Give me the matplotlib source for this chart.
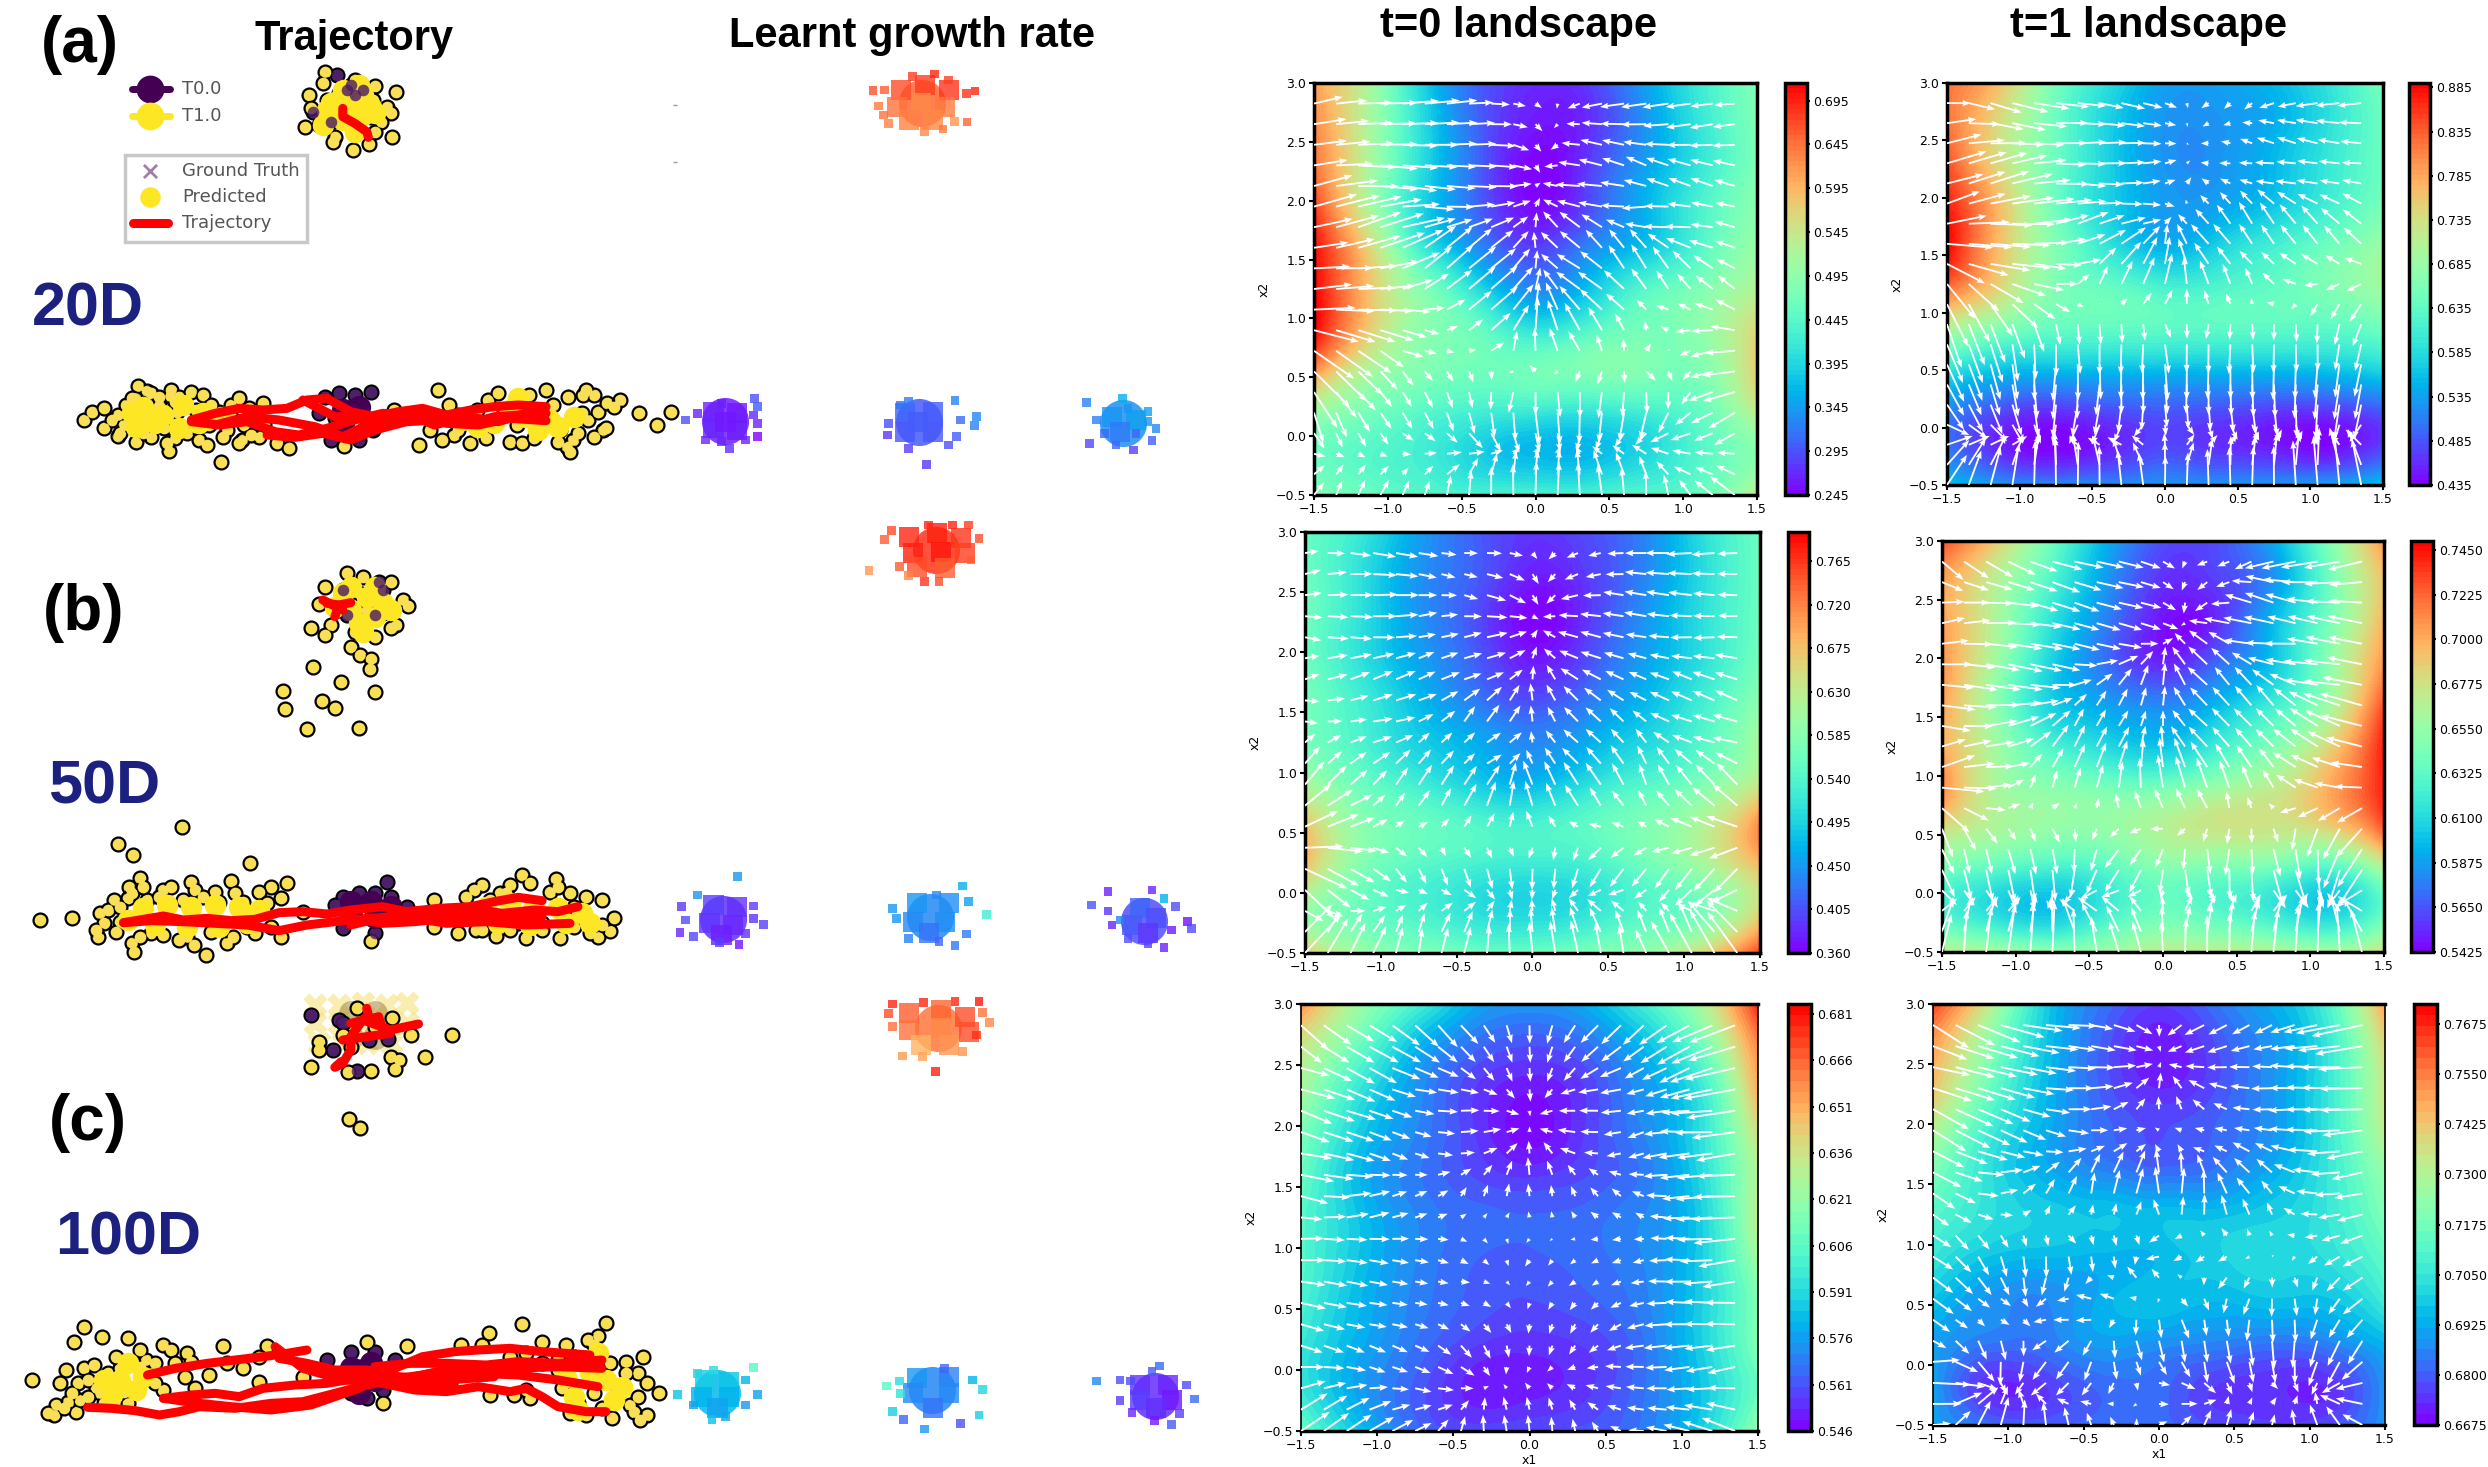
import matplotlib
matplotlib.use("Agg")
import matplotlib.pyplot as plt
import matplotlib.tri as mtri
import numpy as np
from matplotlib.patches import Rectangle

# --- landscape panels: colour, in % of each colour bar,
# rows from x2=3.0 down to x2=-0.5, columns x1=-1.5 .. 1.5
grid_x = [-1.5, -1.125, -0.75, -0.375, 0.0, 0.375, 0.75, 1.125, 1.5]
grid_y = [3.0, 2.65, 2.3, 1.95, 1.6, 1.25, 0.9, 0.55, 0.2, -0.15, -0.5]

land_a0 = [[78, 58, 30, 12, 5, 8, 22, 38, 50],
           [82, 58, 32, 12, 3, 6, 20, 36, 50],
           [85, 58, 32, 12, 0, 8, 22, 36, 50],
           [92, 58, 30, 12, 1, 10, 25, 40, 52],
           [98, 68, 36, 18, 8, 18, 28, 42, 55],
           [100, 72, 50, 32, 18, 28, 42, 50, 60],
           [100, 70, 52, 45, 35, 42, 48, 53, 68],
           [80, 58, 50, 47, 48, 50, 50, 50, 70],
           [55, 48, 42, 38, 36, 35, 38, 45, 62],
           [46, 42, 38, 30, 26, 26, 32, 42, 52],
           [50, 46, 42, 40, 40, 40, 42, 46, 62]]
land_a1 = [[85, 72, 48, 33, 22, 22, 26, 35, 48],
           [85, 66, 46, 30, 20, 20, 24, 34, 46],
           [90, 66, 46, 30, 20, 20, 26, 36, 46],
           [96, 72, 46, 30, 21, 22, 28, 38, 48],
           [100, 72, 50, 34, 24, 30, 38, 46, 55],
           [88, 68, 50, 44, 38, 40, 44, 50, 57],
           [62, 52, 46, 45, 44, 44, 44, 44, 48],
           [38, 30, 29, 29, 29, 29, 29, 30, 34],
           [20, 12, 9, 12, 13, 12, 10, 10, 14],
           [15, 4, 0, 4, 9, 6, 3, 1, 8],
           [28, 20, 18, 18, 20, 20, 20, 22, 28]]
land_b0 = [[45, 36, 22, 12, 7, 10, 18, 34, 46],
           [46, 34, 20, 12, 4, 8, 18, 33, 46],
           [47, 34, 20, 10, 0, 7, 20, 34, 46],
           [46, 34, 22, 12, 3, 10, 22, 34, 48],
           [48, 38, 26, 16, 10, 16, 26, 38, 52],
           [48, 40, 30, 24, 18, 24, 32, 42, 58],
           [58, 46, 38, 30, 26, 34, 42, 50, 64],
           [72, 52, 46, 42, 40, 44, 50, 60, 82],
           [72, 50, 42, 38, 36, 38, 46, 56, 72],
           [55, 46, 40, 34, 32, 35, 42, 48, 68],
           [72, 56, 50, 46, 46, 50, 54, 68, 92]]
land_b1 = [[90, 70, 46, 24, 10, 10, 24, 50, 80],
           [78, 60, 40, 20, 6, 8, 20, 46, 72],
           [78, 58, 34, 16, 2, 6, 26, 48, 75],
           [80, 55, 30, 14, 5, 14, 28, 52, 80],
           [78, 52, 30, 22, 18, 26, 38, 56, 90],
           [76, 56, 40, 32, 28, 38, 50, 68, 96],
           [82, 58, 52, 48, 48, 55, 62, 76, 96],
           [66, 58, 54, 54, 60, 64, 64, 68, 88],
           [48, 42, 38, 42, 50, 48, 46, 40, 58],
           [40, 32, 28, 38, 46, 42, 36, 30, 45],
           [62, 58, 54, 56, 62, 62, 60, 58, 66]]
land_c0 = [[80, 56, 40, 24, 20, 24, 38, 58, 95],
           [64, 46, 26, 14, 10, 14, 26, 46, 82],
           [58, 36, 20, 8, 3, 8, 20, 36, 76],
           [50, 30, 18, 8, 1, 8, 18, 34, 66],
           [46, 26, 16, 10, 7, 10, 16, 32, 60],
           [42, 28, 18, 14, 13, 14, 18, 30, 62],
           [42, 28, 18, 13, 12, 14, 18, 30, 56],
           [40, 26, 17, 12, 10, 12, 17, 30, 50],
           [36, 24, 15, 8, 6, 8, 15, 30, 50],
           [36, 22, 12, 4, 4, 7, 15, 28, 46],
           [46, 28, 14, 9, 10, 11, 16, 30, 54]]
land_c1 = [[92, 62, 30, 15, 8, 15, 24, 40, 78],
           [78, 52, 28, 12, 3, 10, 20, 36, 68],
           [72, 46, 26, 12, 5, 10, 20, 36, 64],
           [60, 38, 24, 14, 10, 13, 20, 36, 62],
           [50, 34, 24, 18, 14, 16, 24, 36, 54],
           [42, 34, 30, 28, 27, 27, 30, 36, 50],
           [36, 28, 26, 25, 26, 30, 32, 34, 44],
           [28, 20, 18, 24, 28, 26, 28, 28, 38],
           [22, 16, 16, 22, 20, 18, 16, 18, 26],
           [22, 6, 8, 14, 14, 8, 6, 6, 20],
           [22, 14, 12, 14, 14, 10, 8, 10, 20]]

ticks_a0 = [0.245, 0.295, 0.345, 0.395, 0.445, 0.495, 0.545, 0.595, 0.645, 0.695]
ticks_a1 = [0.435, 0.485, 0.535, 0.585, 0.635, 0.685, 0.735, 0.785, 0.835, 0.885]
ticks_b0 = [0.360, 0.405, 0.450, 0.495, 0.540, 0.585, 0.630, 0.675, 0.720, 0.765]
ticks_b1 = [0.5425, 0.5650, 0.5875, 0.6100, 0.6325, 0.6550, 0.6775, 0.7000, 0.7225, 0.7450]
ticks_c0 = [0.546, 0.561, 0.576, 0.591, 0.606, 0.621, 0.636, 0.651, 0.666, 0.681]
ticks_c1 = [0.6675, 0.6800, 0.6925, 0.7050, 0.7175, 0.7300, 0.7425, 0.7550, 0.7675]
top_a0, top_a1, top_b0, top_b1, top_c0, top_c1 = 0.715, 0.890, 0.795, 0.7495, 0.6842, 0.7725

# --- trajectory clusters, positions in crop coordinates of each row
a_up_yellow_x = [408, 445, 470, 497, 388, 405, 440, 468, 485, 490, 478, 390, 410, 425, 450, 430, 408, 382, 400, 420, 418, 443, 463, 492, 470, 445, 465]
a_up_yellow_y = [215, 240, 258, 275, 285, 250, 265, 300, 320, 340, 365, 325, 300, 280, 300, 330, 350, 382, 375, 410, 425, 450, 433, 410, 395, 370, 350]
a_up_core_x = [430, 455, 410, 440, 465, 430, 455, 415, 450, 425, 470, 445, 405]
a_up_core_y = [270, 285, 330, 320, 320, 360, 345, 310, 255, 300, 340, 395, 375]
a_up_purple_x = [423, 435, 445, 455, 440, 392, 415]
a_up_purple_y = [225, 270, 285, 270, 255, 335, 365]
a_up_red_x = [[430, 430, 445, 460, 462]]
a_up_red_y = [[325, 350, 370, 395, 412]]

a_lo_yellow_x = [105, 130, 148, 173, 185, 148, 158, 169, 185, 179, 188, 200, 213, 222, 206, 219, 231, 246, 256, 250, 262, 275, 290, 306, 312, 331, 303, 325, 212, 277, 348, 494, 525, 550, 563, 575, 588, 569, 598, 612, 631, 648, 664, 694, 712, 731, 702, 719, 738, 750, 762, 756, 778, 802, 824, 842, 711, 363, 432,
                 115, 130, 140, 155, 165, 175, 190, 205, 215, 225, 240, 255, 270, 285, 300, 315, 330, 150, 170, 190, 210, 235, 260, 280, 300, 160, 180, 200, 220, 245, 265, 290,
                 540, 555, 575, 590, 610, 625, 640, 655, 670, 685, 700, 715, 730, 745, 760, 770, 745, 735, 725]
a_lo_yellow_y = [1260, 1284, 1308, 1158, 1173, 1245, 1215, 1194, 1260, 1296, 1230, 1215, 1188, 1236, 1284, 1314, 1200, 1230, 1275, 1320, 1275, 1236, 1215, 1275, 1224, 1275, 1320, 1311, 1353, 1386, 1328, 1230, 1335, 1170, 1215, 1245, 1260, 1305, 1230, 1200, 1245, 1275, 1185, 1215, 1190, 1185, 1290, 1320, 1260, 1235, 1210, 1290, 1200, 1240, 1275, 1235, 1341, 1345, 1337,
                 1235, 1225, 1260, 1275, 1195, 1225, 1180, 1245, 1170, 1190, 1175, 1185, 1250, 1290, 1195, 1305, 1210, 1300, 1325, 1310, 1330, 1300, 1335, 1310, 1330, 1275, 1300, 1190, 1205, 1280, 1215, 1250,
                 1290, 1320, 1290, 1330, 1315, 1180, 1325, 1330, 1315, 1170, 1325, 1355, 1240, 1310, 1285, 1220, 1185, 1170, 1300]
a_lo_core_x = [165, 180, 205, 230, 255, 280, 195, 225, 250, 170, 660, 690, 640, 620, 700, 675, 650, 720, 600, 580]
a_lo_core_y = [1240, 1220, 1245, 1215, 1240, 1250, 1270, 1285, 1270, 1280, 1250, 1260, 1230, 1270, 1280, 1290, 1195, 1250, 1280, 1260]
a_lo_purple_x = [408, 425, 445, 465, 400, 420, 440, 460, 415, 433, 450, 468]
a_lo_purple_y = [1190, 1180, 1185, 1175, 1240, 1255, 1230, 1270, 1320, 1310, 1320, 1290]
a_lo_dark_x = [430, 450, 430]
a_lo_dark_y = [1230, 1220, 1270]
a_lo_red_x = [[240, 270, 300, 330, 360, 385, 410, 440, 470, 500, 530, 560, 590, 620, 650, 685],
              [240, 275, 310, 345, 375, 410, 445, 480, 520, 560, 600, 640, 685],
              [335, 370, 405, 440, 470, 510, 550, 590, 620, 650, 685],
              [270, 310, 350, 395, 430, 465, 510, 545, 585, 625, 680],
              [380, 420, 460, 500]]
a_lo_red_y = [[1260, 1240, 1225, 1230, 1225, 1200, 1195, 1235, 1250, 1235, 1225, 1245, 1230, 1220, 1215, 1220],
              [1265, 1275, 1265, 1295, 1305, 1285, 1260, 1240, 1245, 1270, 1275, 1255, 1262],
              [1305, 1312, 1300, 1320, 1290, 1265, 1260, 1270, 1250, 1245, 1240],
              [1275, 1250, 1260, 1280, 1310, 1270, 1240, 1275, 1250, 1265, 1225],
              [1200, 1250, 1250, 1255]]

b_up_yellow_x = [435, 455, 408, 490, 505, 512, 400, 497, 490, 470, 445, 415, 408, 390, 440, 452, 465, 464, 393, 428, 470, 355, 358, 404, 420, 385, 450, 430, 460, 450, 470, 440, 480, 425]
b_up_yellow_y = [190, 200, 230, 215, 270, 288, 282, 345, 355, 380, 365, 345, 375, 355, 410, 435, 448, 478, 470, 516, 545, 543, 596, 573, 595, 658, 655, 260, 300, 250, 270, 310, 310, 300]
b_up_core_x = [430, 460, 480, 440, 470, 450, 420, 490, 440, 470, 455]
b_up_core_y = [250, 260, 280, 300, 320, 340, 290, 300, 230, 230, 365]
b_up_purple_x = [475, 430, 480, 470, 435]
b_up_purple_y = [215, 240, 240, 315, 315]
b_up_red_x = [[410, 425, 440], [425, 420], [405, 430]]
b_up_red_y = [[280, 285, 278], [285, 320], [270, 300]]

b_lo_yellow_x = [50, 90, 228, 148, 167, 313, 175, 162, 240, 290, 360, 340, 143, 160, 185, 205, 245, 270, 295, 325, 352, 125, 130, 150, 123, 165, 168, 190, 205, 235, 243, 258, 285, 292, 320, 352, 380, 465, 545, 545, 575, 597, 622, 660, 702, 750, 765, 770, 755, 735, 715, 697, 655, 665, 640, 627, 605, 595, 585, 690,
                 135, 150, 165, 180, 200, 215, 230, 255, 275, 305, 335, 120, 145, 175, 225, 265, 310, 340, 600, 615, 635, 650, 680, 700, 720, 740, 755, 640, 680, 720, 590, 605]
b_lo_yellow_y = [1230, 1225, 950, 1002, 1035, 1060, 1105, 1130, 1115, 1112, 1120, 1130, 1170, 1165, 1170, 1140, 1140, 1145, 1150, 1145, 1165, 1210, 1240, 1235, 1280, 1300, 1325, 1270, 1275, 1280, 1305, 1335, 1300, 1280, 1270, 1280, 1205, 1292, 1170, 1250, 1270, 1260, 1278, 1285, 1285, 1280, 1262, 1225, 1170, 1160, 1150, 1108, 1095, 1118, 1125, 1150, 1125, 1140, 1160, 1145,
                 1200, 1190, 1150, 1130, 1160, 1130, 1170, 1160, 1175, 1175, 1180, 1260, 1265, 1280, 1290, 1265, 1250, 1250, 1230, 1170, 1150, 1240, 1260, 1130, 1190, 1270, 1245, 1260, 1240, 1250, 1205, 1260]
b_lo_core_x = [180, 210, 240, 270, 300, 325, 160, 195, 235, 275, 310, 610, 640, 670, 700, 730, 625, 665, 710, 740]
b_lo_core_y = [1195, 1185, 1190, 1185, 1190, 1200, 1230, 1245, 1250, 1250, 1240, 1190, 1180, 1190, 1195, 1210, 1240, 1245, 1240, 1240]
b_lo_purple_x = [430, 450, 470, 485, 490, 420, 445, 470, 430, 470, 510]
b_lo_purple_y = [1160, 1150, 1150, 1115, 1160, 1185, 1190, 1200, 1255, 1270, 1190]
b_lo_dark_x = [440, 465, 440, 470, 490]
b_lo_dark_y = [1175, 1175, 1215, 1220, 1190]
b_lo_red_x = [[155, 180, 205, 230, 260, 290, 320, 350, 380, 410, 440, 480, 510, 550, 590, 620, 650, 680],
              [155, 190, 230, 270, 310, 350, 385, 420, 460, 510, 560, 610, 660, 715],
              [440, 475, 510, 550, 590, 630, 670, 700, 725],
              [430, 480, 520, 560, 600, 650, 680]]
b_lo_red_y = [[1238, 1228, 1218, 1230, 1225, 1232, 1228, 1208, 1205, 1212, 1200, 1190, 1205, 1195, 1190, 1175, 1162, 1172],
              [1238, 1232, 1235, 1240, 1245, 1262, 1245, 1235, 1225, 1220, 1240, 1235, 1245, 1240],
              [1245, 1225, 1210, 1205, 1195, 1210, 1200, 1205, 1190],
              [1220, 1240, 1235, 1225, 1215, 1225, 1220]]

c_up_yellow_x = [448, 492, 515, 567, 533, 490, 500, 495, 465, 437, 390, 400, 400, 430, 438, 452, 470, 440]
c_up_yellow_y = [85, 115, 165, 165, 232, 230, 240, 268, 272, 277, 260, 185, 210, 165, 418, 445, 140, 200]
c_up_purple_x = [390, 425, 463, 487, 418, 448, 430]
c_up_purple_y = [105, 120, 180, 178, 210, 272, 130]
c_up_red_x = [[460, 462, 455, 440, 440, 430, 420, 428], [455, 490, 525], [430, 490], [440, 475, 480]]
c_up_red_y = [[85, 105, 120, 170, 210, 250, 262, 245], [120, 150, 132], [180, 160], [130, 110, 150]]
c_up_halo_x = [395, 425, 455, 485, 510, 395, 425, 455, 485, 510, 400, 430, 460, 490]
c_up_halo_y = [75, 75, 70, 75, 70, 130, 130, 130, 130, 130, 190, 190, 190, 190]
c_up_dark_x = [440, 470, 440, 470]
c_up_dark_y = [100, 100, 170, 170]

c_lo_yellow_x = [40, 105, 93, 128, 160, 205, 215, 235, 240, 280, 335, 285, 305, 325, 83, 105, 118, 135, 150, 165, 183, 190, 98, 120, 135, 70, 68, 95, 85, 100, 262, 232, 245, 325, 380, 460, 510, 578, 605, 613, 655, 760, 750, 737, 680, 710, 807, 785, 800, 812, 827, 790, 795, 812, 803, 768, 735, 615, 665, 645, 480, 660, 640, 610,
                 75, 90, 110, 125, 145, 160, 175, 195, 205, 60, 80, 110, 130, 155, 175, 195, 220, 700, 720, 745, 765, 785, 705, 725, 755, 775, 800, 715, 745, 700, 680, 660]
c_lo_yellow_y = [1200, 1042, 1085, 1072, 1075, 1095, 1110, 1120, 1145, 1098, 1097, 1150, 1165, 1130, 1170, 1165, 1155, 1180, 1165, 1150, 1140, 1180, 1210, 1225, 1245, 1275, 1305, 1295, 1265, 1260, 1185, 1190, 1225, 1205, 1190, 1085, 1098, 1095, 1095, 1060, 1032, 1028, 1068, 1080, 1085, 1095, 1130, 1145, 1180, 1210, 1240, 1275, 1295, 1305, 1320, 1315, 1305, 1245, 1255, 1245, 1270, 1120, 1130, 1180,
                 1210, 1240, 1200, 1240, 1130, 1270, 1110, 1150, 1230, 1300, 1285, 1250, 1270, 1235, 1160, 1210, 1150, 1170, 1130, 1095, 1150, 1180, 1225, 1270, 1285, 1240, 1250, 1300, 1240, 1140, 1150, 1230]
c_lo_core_x = [150, 170, 130, 180, 140, 160, 735, 760, 720, 780, 750, 710, 770, 740, 725]
c_lo_core_y = [1200, 1230, 1200, 1190, 1245, 1150, 1150, 1200, 1250, 1220, 1120, 1190, 1260, 1180, 1290]
c_lo_purple_x = [440, 470, 495, 410, 450, 460, 480, 440]
c_lo_purple_y = [1115, 1115, 1140, 1140, 1160, 1255, 1230, 1240]
c_lo_dark_x = [440, 465, 470, 450]
c_lo_dark_y = [1165, 1150, 1200, 1240]
c_lo_red_x = [[185, 220, 260, 295, 330, 360, 385],
              [110, 140, 170, 200, 225, 250, 295, 340, 380, 420, 460, 500, 530, 560, 600, 640, 700, 755],
              [205, 240, 270, 300, 330, 370, 410, 460, 500, 550, 600, 650, 700, 750],
              [205, 250, 290, 340, 390, 420, 450, 490, 530, 570, 600, 640, 680, 740],
              [430, 480, 520, 560, 600, 640, 660, 680, 700, 735, 760],
              [470, 515, 560, 610, 650, 700, 755],
              [350, 385, 420, 460, 500, 560, 620],
              [345, 380, 430, 490, 570]]
c_lo_red_y = [[1185, 1165, 1150, 1140, 1130, 1120, 1110],
              [1282, 1285, 1292, 1305, 1295, 1280, 1285, 1270, 1265, 1240, 1215, 1195, 1185, 1170, 1160, 1165, 1160, 1165],
              [1255, 1245, 1240, 1250, 1225, 1215, 1210, 1190, 1200, 1175, 1180, 1185, 1200, 1220],
              [1255, 1270, 1280, 1290, 1275, 1250, 1225, 1170, 1130, 1115, 1110, 1105, 1115, 1125],
              [1190, 1210, 1230, 1235, 1220, 1235, 1225, 1250, 1280, 1295, 1295],
              [1160, 1150, 1150, 1155, 1145, 1150, 1140],
              [1135, 1150, 1170, 1170, 1190, 1200, 1190],
              [1100, 1165, 1200, 1205, 1210]]

# --- growth rate clouds (x, y, colour position on rainbow), same crop coordinates
blob_a0_core = [(1130, 270, .9), (1160, 255, .92), (1190, 270, .93), (1125, 320, .85), (1155, 310, .82), (1185, 320, .84), (1140, 360, .83), (1170, 360, .82)]
blob_a0_edge = [(1095, 272, .9), (1110, 270, .88), (1223, 273, .95), (1212, 280, .93), (1102, 318, .84), (1145, 230, .92), (1172, 222, .95), (1115, 370, .83), (1160, 395, .82), (1183, 387, .84), (1213, 366, .87), (1108, 345, .85), (1197, 365, .8), (1190, 240, .92)]
blob_a1_core = [(895, 1235, .04), (925, 1240, .03), (895, 1285, .05), (925, 1290, .04), (910, 1265, .03)]
blob_a1_edge = [(946, 1196, .1), (905, 1210, .04), (950, 1220, .12), (860, 1260, .1), (875, 1240, .04), (950, 1270, .04), (950, 1310, .0), (885, 1320, .05), (915, 1345, .06), (935, 1320, .04), (905, 1325, .05), (945, 1245, .05)]
blob_a2_core = [(1135, 1240, .13), (1170, 1235, .12), (1135, 1295, .11), (1170, 1295, .11), (1152, 1265, .12)]
blob_a2_edge = [(1198, 1202, .17), (1140, 1205, .16), (1225, 1250, .18), (1222, 1277, .17), (1113, 1305, .07), (1115, 1270, .1), (1200, 1310, .12), (1140, 1345, .08), (1190, 1335, .1), (1162, 1393, .07), (1130, 1215, .15), (1205, 1260, .14)]
blob_a3_core = [(1395, 1250, .2), (1425, 1260, .22), (1405, 1295, .16)]
blob_a3_edge = [(1408, 1195, .24), (1363, 1208, .17), (1415, 1225, .2), (1440, 1235, .22), (1450, 1285, .18), (1445, 1322, .12), (1367, 1330, .09), (1400, 1335, .13), (1422, 1350, .08), (1375, 1260, .17), (1440, 1265, .2), (1385, 1300, .14), (1425, 1300, .13)]

blob_b0_core = [(1140, 80, .95), (1175, 70, .96), (1205, 85, .93), (1145, 130, .96), (1180, 125, .97), (1210, 130, .92), (1150, 170, .9), (1185, 175, .88)]
blob_b0_edge = [(1215, 45, .92), (1118, 62, .9), (1110, 88, .88), (1228, 85, .9), (1090, 182, .8), (1140, 197, .82), (1160, 215, .93), (1178, 215, .9), (1128, 170, .88), (1218, 150, .88), (1195, 45, .95), (1165, 45, .95)]
blob_b1_core = [(895, 1185, .08), (925, 1190, .06), (890, 1240, .07), (920, 1245, .05), (905, 1275, .04)]
blob_b1_edge = [(925, 1100, .2), (875, 1155, .2), (855, 1190, .07), (860, 1230, .1), (958, 1243, .08), (853, 1268, .05), (870, 1280, .09), (903, 1297, .08), (927, 1303, .02), (945, 1188, .08), (945, 1225, .07), (935, 1270, .06)]
blob_b2_core = [(1150, 1180, .2), (1190, 1180, .19), (1145, 1235, .18), (1185, 1235, .19), (1165, 1270, .15)]
blob_b2_edge = [(1207, 1128, .24), (1237, 1213, .38), (1120, 1195, .2), (1215, 1175, .22), (1140, 1285, .17), (1198, 1307, .16), (1212, 1272, .16), (1175, 1155, .18), (1125, 1225, .2), (1178, 1295, .13)]
blob_b3_core = [(1430, 1195, .13), (1450, 1225, .1), (1420, 1245, .12), (1440, 1270, .07)]
blob_b3_edge = [(1390, 1145, .04), (1445, 1140, .05), (1369, 1185, .11), (1460, 1165, .25), (1390, 1203, .07), (1475, 1190, .1), (1395, 1245, .05), (1490, 1235, .02), (1495, 1255, .1), (1415, 1285, .1), (1440, 1302, .08), (1460, 1313, .04), (1405, 1230, .18), (1470, 1260, .03)]

blob_c0_core = [(1140, 100, .88), (1180, 90, .87), (1210, 110, .9), (1140, 150, .85), (1180, 145, .82), (1215, 155, .9), (1155, 195, .75), (1190, 195, .8)]
blob_c0_edge = [(1120, 72, .95), (1158, 68, .95), (1198, 65, .95), (1228, 65, .97), (1232, 98, .85), (1241, 128, .82), (1115, 100, .9), (1120, 140, .85), (1132, 228, .8), (1157, 230, .78), (1207, 215, .8), (1173, 275, .96), (1225, 165, .94)]
blob_c1_core = [(885, 1200, .3), (915, 1205, .28), (880, 1250, .25), (915, 1250, .25), (900, 1285, .22)]
blob_c1_edge = [(945, 1163, .42), (895, 1170, .33), (850, 1243, .28), (950, 1243, .22), (893, 1318, .27), (910, 1310, .23), (870, 1275, .22), (935, 1275, .2), (875, 1180, .32), (935, 1200, .25)]
blob_c2_core = [(1150, 1195, .2), (1190, 1190, .17), (1145, 1240, .18), (1190, 1240, .18), (1170, 1285, .15)]
blob_c2_edge = [(1112, 1218, .42), (1128, 1203, .33), (1232, 1228, .32), (1130, 1240, .35), (1120, 1295, .3), (1228, 1305, .3), (1133, 1318, .13), (1160, 1347, .2), (1205, 1330, .1), (1220, 1200, .25), (1185, 1165, .13)]
blob_c3_core = [(1430, 1215, .06), (1465, 1215, .05), (1430, 1260, .08), (1470, 1260, .03), (1450, 1285, .06)]
blob_c3_edge = [(1454, 1158, .14), (1375, 1203, .18), (1405, 1200, .1), (1418, 1203, .1), (1498, 1257, .14), (1405, 1262, .08), (1488, 1215, .1), (1420, 1298, .05), (1480, 1300, .08), (1448, 1322, .03), (1470, 1333, .12), (1445, 1175, .12)]

W, H = 2488, 1467
YELLOW = "#fde725"
PURPLE = "#440154"
NAVY = "#1c2180"
BOLD = "Liberation Sans"

plt.rcParams["font.family"] = ["DejaVu Sans"]
fig = plt.figure(figsize=(W / 100, H / 100), dpi=100)


def axes_px(left, top, right, bottom):
    return fig.add_axes([left / W, 1 - bottom / H, (right - left) / W, (bottom - top) / H])


def crop_axes(top, height):
    # left side of the figure, scaled like a crop of the reference
    ax = axes_px(0, top, 1250, top + height)
    ax.set_xlim(0, 1568)
    ax.set_ylim(height * 3, 0)
    ax.axis("off")
    ax.patch.set_alpha(0)
    return ax


def draw_cluster(ax, yx, yy, px, py, red_x, red_y, core_x=None, core_y=None, dark_x=None, dark_y=None):
    if core_x:
        ax.scatter(core_x, core_y, s=200, marker="X", color=YELLOW, alpha=0.3, lw=0, zorder=2)
    ax.scatter(px, py, s=100, color="#5e3c7c", edgecolors="black", linewidths=1.6, zorder=3)
    ax.scatter(yx, yy, s=100, color="#f8df55", edgecolors="black", linewidths=1.6, zorder=3)
    ax.scatter(yx, yy, s=58, color="#f8df55", lw=0, zorder=4)
    if core_x:
        ax.scatter(core_x, core_y, s=240, color=YELLOW, lw=0, zorder=4)
    ax.scatter(px, py, s=70, color="#4a1a66", alpha=0.8, lw=0, zorder=4.5)
    if dark_x:
        ax.scatter(dark_x, dark_y, s=280, color=PURPLE, lw=0, zorder=4.6)
    for lx, ly in zip(red_x, red_y):
        ax.plot(lx, ly, color="red", lw=6.5, solid_capstyle="round", solid_joinstyle="round", zorder=5)


def draw_blob(ax, core, edge):
    core_x, core_y, core_g = zip(*core)
    edge_x, edge_y, edge_g = zip(*edge)
    # solid body of the cloud under the single squares
    ax.scatter([np.mean(core_x)], [np.mean(core_y)], c=[np.mean(core_g)], cmap="rainbow", vmin=0, vmax=1,
               s=1150, marker="o", alpha=0.85, lw=0, zorder=1.5)
    ax.scatter(core_x, core_y, c=core_g, cmap="rainbow", vmin=0, vmax=1, s=210, marker="s", alpha=0.8, lw=0, zorder=2)
    ax.scatter(edge_x, edge_y, c=edge_g, cmap="rainbow", vmin=0, vmax=1, s=40, marker="s", alpha=0.8, lw=0, zorder=3)


def draw_landscape(box, cbar_box, land, ticks, top, fmt, n_levels, xlabel=False, side_lw=2.5):
    ax = axes_px(*box)
    cax = axes_px(*cbar_box)
    # tick spacing sets the bottom of the bar, top comes from the picture
    vmin, vmax = ticks[0], top
    z = vmin + np.array(land, dtype=float) / 100 * (vmax - vmin)
    gx, gy = np.meshgrid(grid_x, grid_y)
    tri = mtri.Triangulation(gx.ravel(), gy.ravel())
    interp = mtri.CubicTriInterpolator(tri, z.ravel(), kind="min_E")

    fx, fy = np.meshgrid(np.linspace(-1.5, 1.5, 160), np.linspace(-0.5, 3.0, 160))
    fz = np.clip(np.ma.filled(interp(fx, fy), np.nan), vmin, vmax)
    levels = np.linspace(vmin, vmax, n_levels)
    cf = ax.contourf(fx, fy, fz, levels=levels, cmap="rainbow", vmin=vmin, vmax=vmax)

    # arrows follow the slope of the read-off landscape, they are not read one by one
    qx, qy = np.meshgrid(-1.5 + 0.15 * np.arange(20), -0.5 + 0.175 * np.arange(20))
    dzdx, dzdy = interp.gradient(qx, qy)
    u, v = -np.ma.filled(dzdx, 0), -np.ma.filled(dzdy, 0)
    mag = np.hypot(u, v)
    # short arrows stay readable in the reference, so the length range is squeezed
    shrink = (mag / mag.max()) ** 0.75 / np.maximum(mag / mag.max(), 1e-6)
    ax.quiver(qx, qy, u * shrink, v * shrink, color="white", scale=mag.max() / 0.115, scale_units="width",
              width=0.0042, headwidth=3.4, headlength=4.5, headaxislength=4, minlength=0.3, zorder=3)

    ax.set_xlim(-1.5, 1.5)
    ax.set_ylim(-0.5, 3.0)
    ax.set_xticks([-1.5, -1.0, -0.5, 0.0, 0.5, 1.0, 1.5])
    ax.set_yticks([-0.5, 0.0, 0.5, 1.0, 1.5, 2.0, 2.5, 3.0])
    ax.tick_params(labelsize=9, width=1.5, length=3.5, pad=2)
    ax.set_ylabel("x2", fontsize=9, labelpad=4)
    if xlabel:
        ax.set_xlabel("x1", fontsize=9, labelpad=2)

    cb = fig.colorbar(cf, cax=cax)
    cb.set_ticks(ticks)
    cb.set_ticklabels([fmt % t for t in ticks])
    cb.ax.tick_params(labelsize=9, width=1.5, length=2.5, pad=2)
    cb.ax.minorticks_off()
    for a in (ax, cax):
        for name, sp in a.spines.items():
            sp.set_linewidth(side_lw if name in ("left", "right") else 2.5)


ax_a = crop_axes(0, 500)
ax_b = crop_axes(510, 480)
ax_c = crop_axes(980, 487)

draw_cluster(ax_a, a_up_yellow_x, a_up_yellow_y, a_up_purple_x, a_up_purple_y, a_up_red_x, a_up_red_y, a_up_core_x, a_up_core_y)
draw_cluster(ax_a, a_lo_yellow_x, a_lo_yellow_y, a_lo_purple_x, a_lo_purple_y, a_lo_red_x, a_lo_red_y, a_lo_core_x, a_lo_core_y, a_lo_dark_x, a_lo_dark_y)
draw_cluster(ax_b, b_up_yellow_x, b_up_yellow_y, b_up_purple_x, b_up_purple_y, b_up_red_x, b_up_red_y, b_up_core_x, b_up_core_y)
draw_cluster(ax_b, b_lo_yellow_x, b_lo_yellow_y, b_lo_purple_x, b_lo_purple_y, b_lo_red_x, b_lo_red_y, b_lo_core_x, b_lo_core_y, b_lo_dark_x, b_lo_dark_y)
ax_c.scatter(c_up_halo_x, c_up_halo_y, s=300, marker="X", color="#f6e27a", alpha=0.6, lw=0, zorder=1)
ax_c.scatter(c_up_dark_x, c_up_dark_y, s=320, color="#8a6d20", alpha=0.45, lw=0, zorder=1.5)
draw_cluster(ax_c, c_up_yellow_x, c_up_yellow_y, c_up_purple_x, c_up_purple_y, c_up_red_x, c_up_red_y)
draw_cluster(ax_c, c_lo_yellow_x, c_lo_yellow_y, c_lo_purple_x, c_lo_purple_y, c_lo_red_x, c_lo_red_y, c_lo_core_x, c_lo_core_y, c_lo_dark_x, c_lo_dark_y)

draw_blob(ax_a, blob_a0_core, blob_a0_edge)
draw_blob(ax_a, blob_a1_core, blob_a1_edge)
draw_blob(ax_a, blob_a2_core, blob_a2_edge)
draw_blob(ax_a, blob_a3_core, blob_a3_edge)
draw_blob(ax_b, blob_b0_core, blob_b0_edge)
draw_blob(ax_b, blob_b1_core, blob_b1_edge)
draw_blob(ax_b, blob_b2_core, blob_b2_edge)
draw_blob(ax_b, blob_b3_core, blob_b3_edge)
draw_blob(ax_c, blob_c0_core, blob_c0_edge)
draw_blob(ax_c, blob_c1_core, blob_c1_edge)
draw_blob(ax_c, blob_c2_core, blob_c2_edge)
draw_blob(ax_c, blob_c3_core, blob_c3_edge)

# legends of the first trajectory panel
for yy, col, lab in [(268, PURPLE, "T0.0"), (348, YELLOW, "T1.0")]:
    ax_a.plot([165, 213], [yy, yy], color=col, lw=5, solid_capstyle="round", zorder=6)
    ax_a.plot([188], [yy], color=col, marker="o", ms=19, zorder=6)
    ax_a.text(228, yy, lab, fontsize=13, color="#555555", va="center", zorder=6)
ax_a.add_patch(Rectangle((157, 465), 228, 260, fc="white", ec="#c8c8c8", lw=2.5, zorder=6))
ax_a.scatter([188], [512], s=90, marker="x", color=PURPLE, alpha=0.5, linewidths=2, zorder=7)
ax_a.scatter([188], [590], s=190, color=YELLOW, zorder=7)
ax_a.plot([167, 211], [670, 670], color="red", lw=6.5, solid_capstyle="round", zorder=7)
for yy, lab in [(512, "Ground Truth"), (590, "Predicted"), (670, "Trajectory")]:
    ax_a.text(228, yy, lab, fontsize=13, color="#555555", va="center", zorder=7)
ax_a.plot([847, 847], [316, 487], ls="none", marker="_", ms=3, color="#999999")

# panel letters and dimension labels
for ax, xx, yy, lab in [(ax_a, 100, 135, "(a)"), (ax_b, 105, 308, "(b)"), (ax_c, 110, 430, "(c)")]:
    ax.text(xx, yy, lab, fontsize=46, fontweight="bold", family=BOLD, ha="center", va="center")
for ax, xx, yy, lab in [(ax_a, 110, 930, "20D"), (ax_b, 131, 835, "50D"), (ax_c, 161, 778, "100D")]:
    ax.text(xx, yy, lab, fontsize=44, fontweight="bold", family=BOLD, color=NAVY, ha="center", va="center")

# column titles
for xx, yy, lab in [(354, 39, "Trajectory"), (912, 36, "Learnt growth rate"), (1519, 26, "t=0 landscape"), (2148, 26, "t=1 landscape")]:
    fig.text(xx / W, 1 - yy / H, lab, fontsize=30, fontweight="bold", family=BOLD, ha="center", va="center")

draw_landscape((1314, 83, 1757, 495), (1785, 83, 1807, 495), land_a0, ticks_a0, top_a0, "%.3f", 80)
draw_landscape((1947, 83, 2383, 485), (2409, 83, 2430, 485), land_a1, ticks_a1, top_a1, "%.3f", 80)
draw_landscape((1305, 532, 1760, 953), (1788, 532, 1809, 953), land_b0, ticks_b0, top_b0, "%.3f", 80)
draw_landscape((1942, 541, 2384, 952), (2411, 541, 2433, 952), land_b1, ticks_b1, top_b1, "%.4f", 80)
draw_landscape((1301, 1004, 1758, 1431), (1788, 1004, 1811, 1431), land_c0, ticks_c0, top_c0, "%.3f", 40, xlabel=True, side_lw=1.2)
draw_landscape((1933, 1004, 2385, 1425), (2414, 1004, 2437, 1425), land_c1, ticks_c1, top_c1, "%.4f", 40, xlabel=True, side_lw=1.2)

fig.savefig("out.png", dpi=100)
plt.close(fig)
